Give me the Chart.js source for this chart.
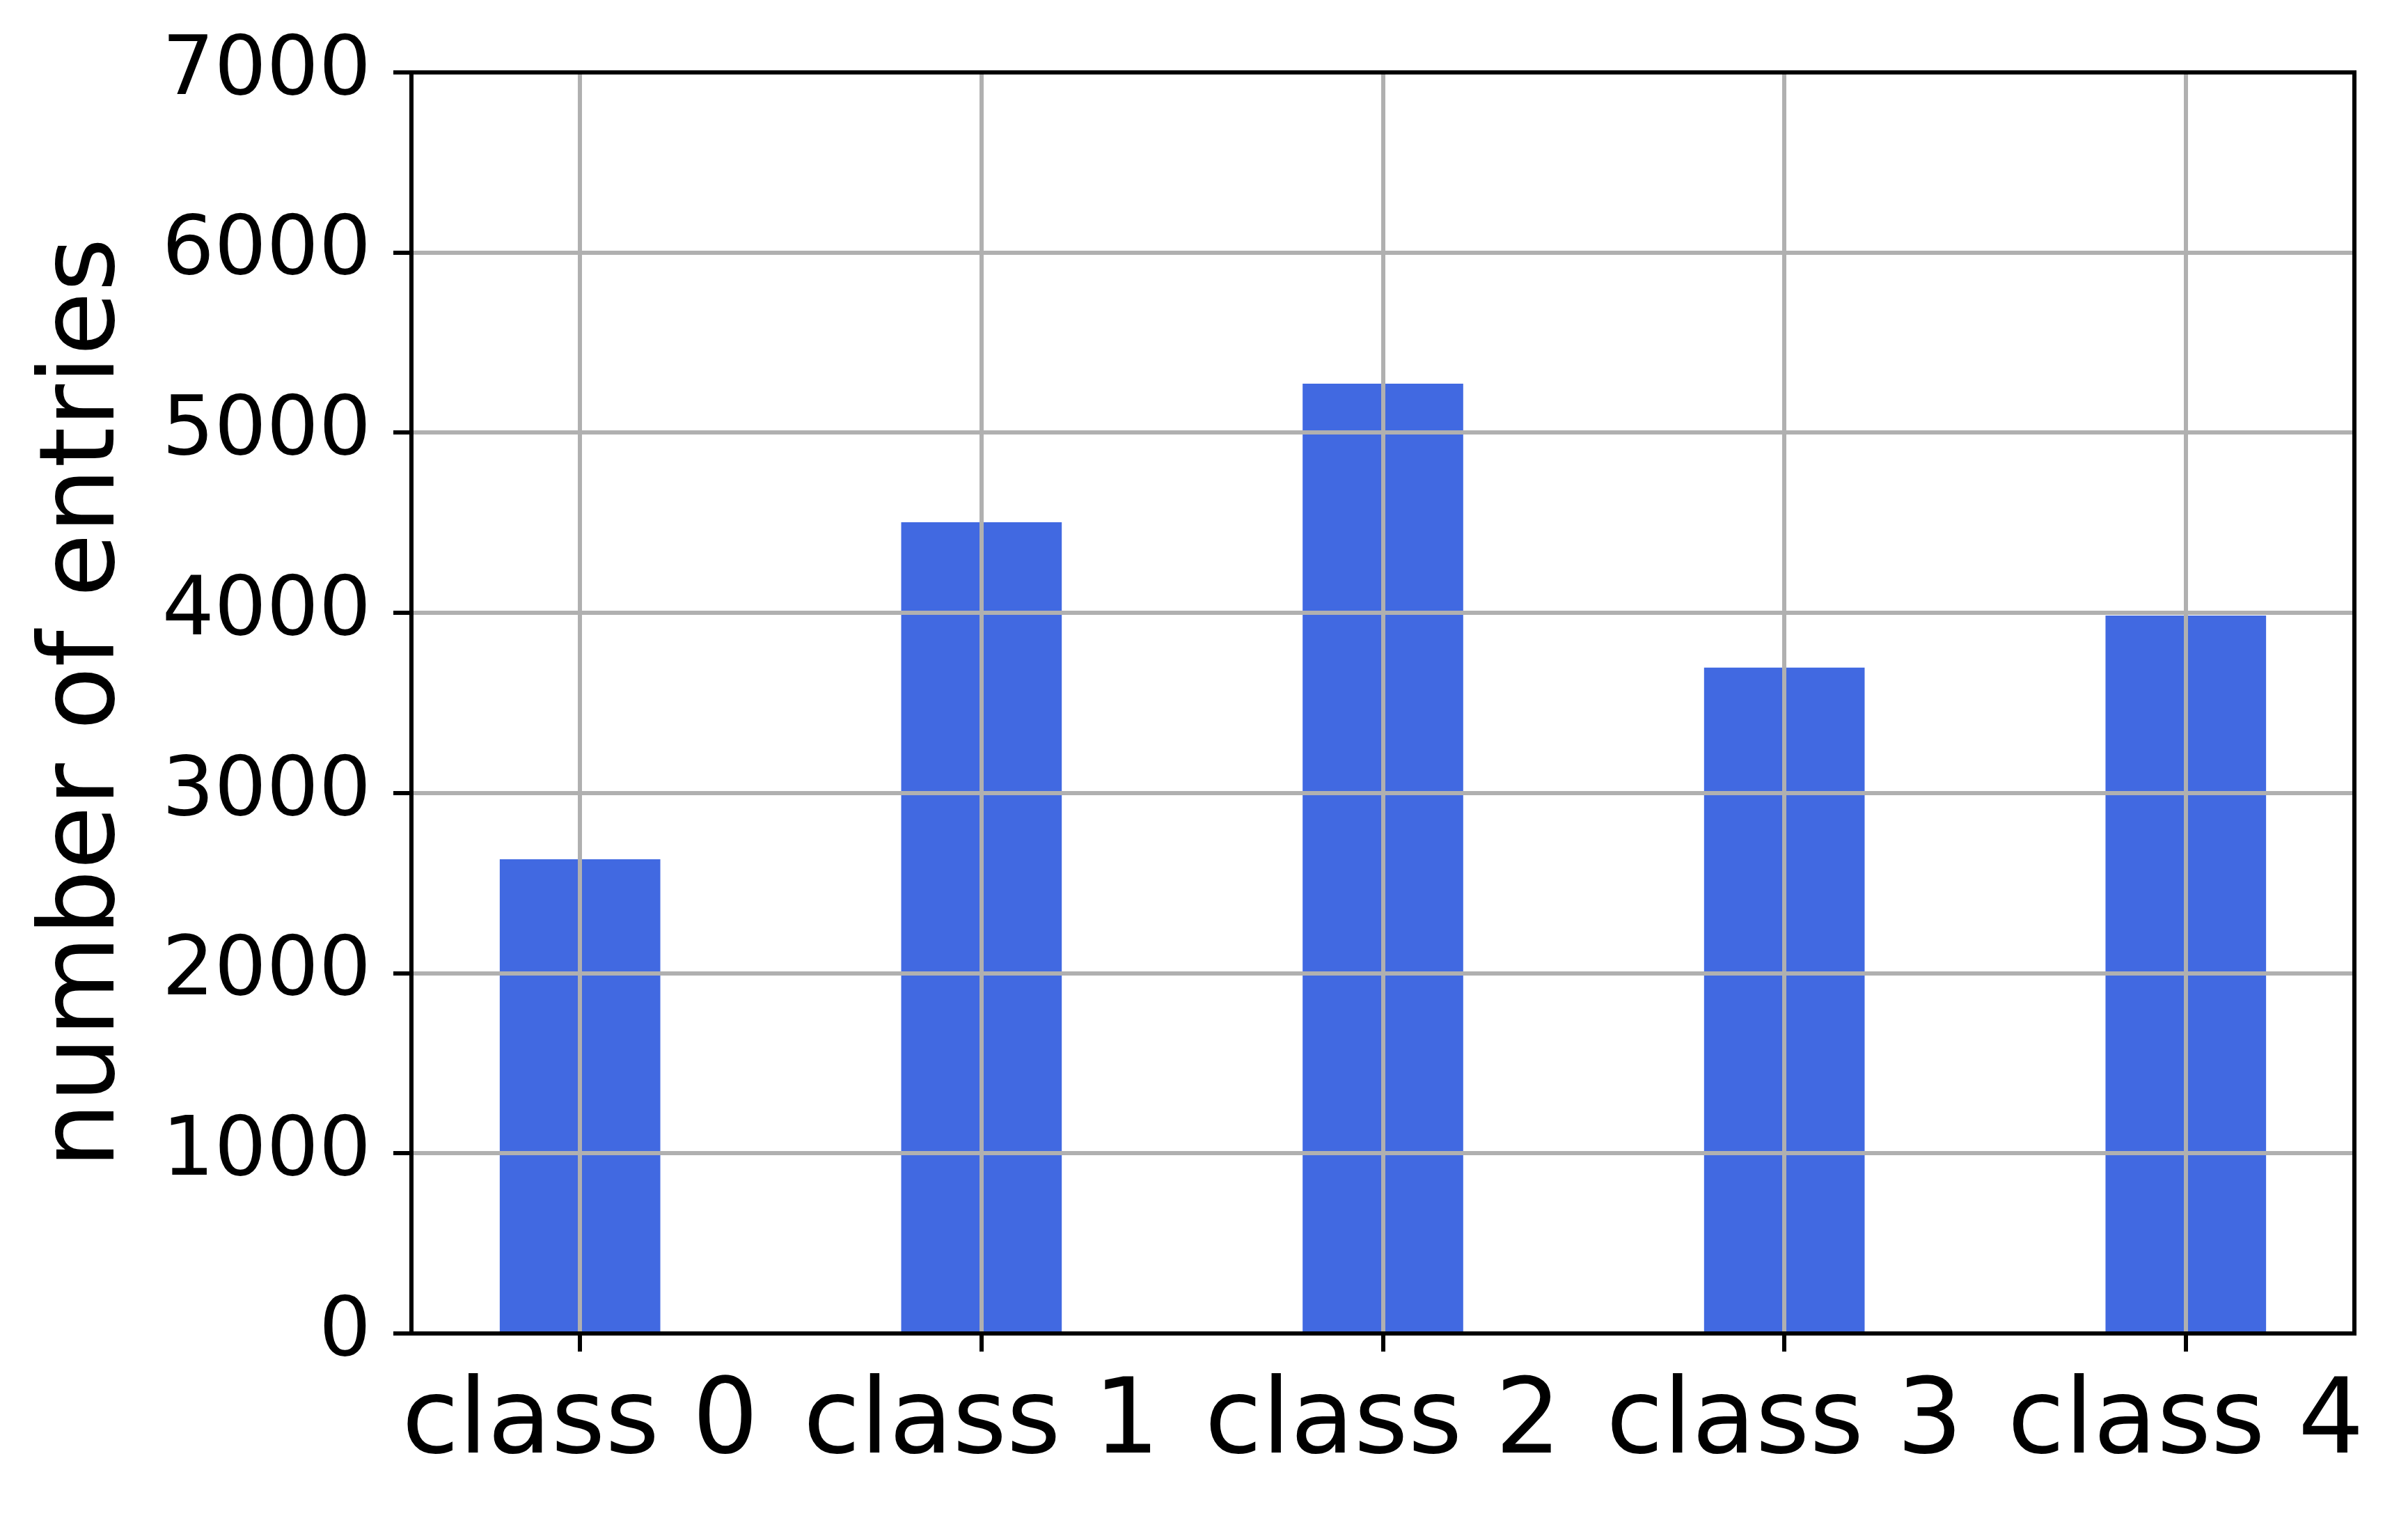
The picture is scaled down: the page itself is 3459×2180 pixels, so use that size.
<!DOCTYPE html>
<html>
<head>
<meta charset="utf-8">
<script src="https://cdn.jsdelivr.net/npm/chart.js@4/dist/chart.umd.min.js"></script>
<style>
  html, body { margin: 0; padding: 0; background: #fff; }
  canvas { display: block; }
</style>
</head>
<body>
<canvas id="chart" width="3459" height="2180"></canvas>
<script>
const classLabels = ['class 0', 'class 1', 'class 2', 'class 3', 'class 4'];
const entryCounts = [2632, 4503, 5272, 3696, 3985];
const yTicks = [0, 1000, 2000, 3000, 4000, 5000, 6000, 7000];

const FONT = 'DejaVu Sans';

// top and right spines, like the matplotlib frame
const framePlugin = {
  id: 'frame',
  afterDraw(chart) {
    const { ctx, chartArea: a } = chart;
    ctx.save();
    ctx.strokeStyle = '#000';
    ctx.lineWidth = 6;
    ctx.strokeRect(a.left, a.top, a.right - a.left, a.bottom - a.top);
    ctx.restore();
  }
};

new Chart(document.getElementById('chart'), {
  type: 'bar',
  data: {
    datasets: [{
      data: entryCounts.map((v, i) => ({ x: i, y: v })),
      backgroundColor: '#4169e1',
      borderWidth: 0,
      barPercentage: 0.4,
      categoryPercentage: 1,
    }],
  },
  options: {
    responsive: false,
    animation: false,
    devicePixelRatio: 1,
    layout: { padding: { left: 0, top: 104, right: 77, bottom: 0 } },
    plugins: { legend: { display: false }, tooltip: { enabled: false } },
    scales: {
      x: {
        type: 'linear',
        min: -0.42,
        max: 4.42,
        offset: false,
        afterBuildTicks: (scale) => { scale.ticks = classLabels.map((_, i) => ({ value: i })); },
        afterFit: (scale) => { scale.height = 265; },
        ticks: {
          callback: (value) => classLabels[value],
          font: { family: FONT, size: 149 },
          color: '#000',
          padding: 17,
          autoSkip: false,
          maxRotation: 0,
        },
        // grid on top of the bars, as in the original
        grid: { z: 1, offset: false, color: '#b0b0b0', lineWidth: 6, tickColor: '#000', tickWidth: 6, tickLength: 26 },
        border: { z: 2, color: '#000', width: 6 },
      },
      y: {
        min: 0,
        max: 7000,
        afterBuildTicks: (scale) => { scale.ticks = yTicks.map(v => ({ value: v })); },
        afterFit: (scale) => { scale.width = 591; },
        ticks: {
          callback: (value) => String(value),
          font: { family: FONT, size: 118 },
          color: '#000',
          padding: 32,
        },
        grid: { z: 1, color: '#b0b0b0', lineWidth: 6, tickColor: '#000', tickWidth: 6, tickLength: 26 },
        border: { z: 2, color: '#000', width: 6 },
        title: {
          display: true,
          text: 'number of entries',
          font: { family: FONT, size: 149, lineHeight: 1.2 },
          color: '#000',
          padding: { top: 35, bottom: 0 },
        },
      },
    },
  },
  plugins: [framePlugin],
});
</script>
</body>
</html>
